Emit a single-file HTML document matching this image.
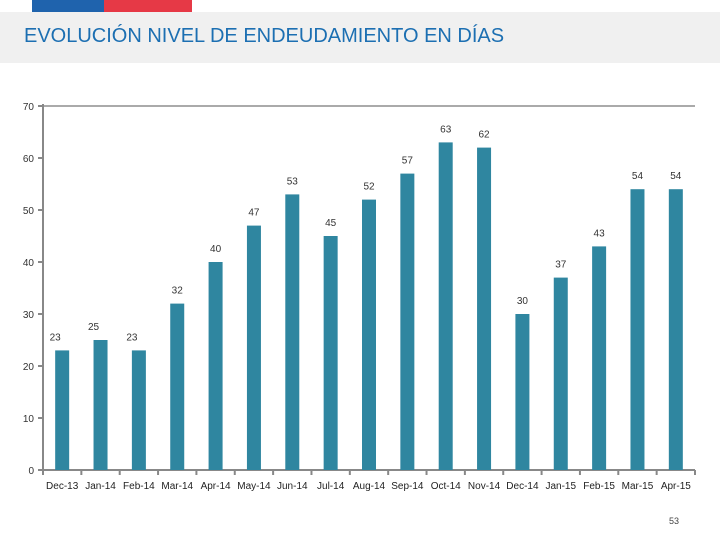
<!DOCTYPE html>
<html><head><meta charset="utf-8"><style>
body{margin:0;width:720px;height:540px;background:#fff;overflow:hidden;font-family:"Liberation Sans",sans-serif}
</style></head><body>
<div style="position:absolute;left:32px;top:0;width:72px;height:12px;background:#1f63ad"></div>
<div style="position:absolute;left:104px;top:0;width:88px;height:12px;background:#e63946"></div>
<div style="position:absolute;left:0;top:12px;width:720px;height:51px;background:#f0f0f0"></div>
<div style="position:absolute;left:24px;top:25px;font-size:20px;color:#1c6fb2">EVOLUCIÓN NIVEL DE ENDEUDAMIENTO EN DÍAS</div>
<svg id="c" width="720" height="540" style="position:absolute;left:0;top:0"></svg>
<div style="position:absolute;left:669px;top:516px;font-size:9px;color:#444">53</div>
<script>
const categories=["Dec-13","Jan-14","Feb-14","Mar-14","Apr-14","May-14","Jun-14","Jul-14","Aug-14","Sep-14","Oct-14","Nov-14","Dec-14","Jan-15","Feb-15","Mar-15","Apr-15"];
const values=[23,25,23,32,40,47,53,45,52,57,63,62,30,37,43,54,54];
const yTicks=[0,10,20,30,40,50,60,70];
const svg=document.getElementById('c');const NS='http://www.w3.org/2000/svg';
const x0=43,x1=695,yb=470,yt=106,ymax=70;
const step=(x1-x0)/categories.length;
const y=v=>yb-(v/ymax)*(yb-yt);
const xc=i=>x0+step*(i+0.5);
function mk(t,a,txt){const e=document.createElementNS(NS,t);for(const k in a)e.setAttribute(k,a[k]);if(txt!=null)e.textContent=txt;svg.appendChild(e);return e;}
let e=mk('line',{x1:x0,y1:yt,x2:x1,y2:yt,stroke:'#aaa','stroke-width':2});

e=mk('line',{x1:x0,y1:yt-2,x2:x0,y2:yb+5,stroke:'#888','stroke-width':2});

e=mk('line',{x1:x0-5,y1:yb,x2:x1,y2:yb,stroke:'#888','stroke-width':2});

yTicks.forEach(t=>{
 let l=mk('line',{x1:x0-5,y1:y(t),x2:x0,y2:y(t),stroke:'#888','stroke-width':2});
 
 let tx=mk('text',{x:x0-9,y:y(t)+4,'text-anchor':'end','font-size':10,fill:'#333'},String(t));
 
});
for(let i=0;i<=categories.length;i++){
 let l=mk('line',{x1:x0+step*i,y1:yb,x2:x0+step*i,y2:yb+5,stroke:'#888','stroke-width':2});
 
}
categories.forEach((c,i)=>{
 let r=mk('rect',{x:xc(i)-7,y:y(values[i]),width:14,height:yb-y(values[i]),fill:'#2f86a0'});
 
 let lb=mk('text',{x:xc(i)-(i<3?7:0),y:y(values[i])-10,'text-anchor':'middle','font-size':10,fill:'#333'},String(values[i]));
 
 let xl=mk('text',{x:xc(i),y:yb+19,'text-anchor':'middle','font-size':10,fill:'#222'},c);
 
});
</script>
</body></html>
